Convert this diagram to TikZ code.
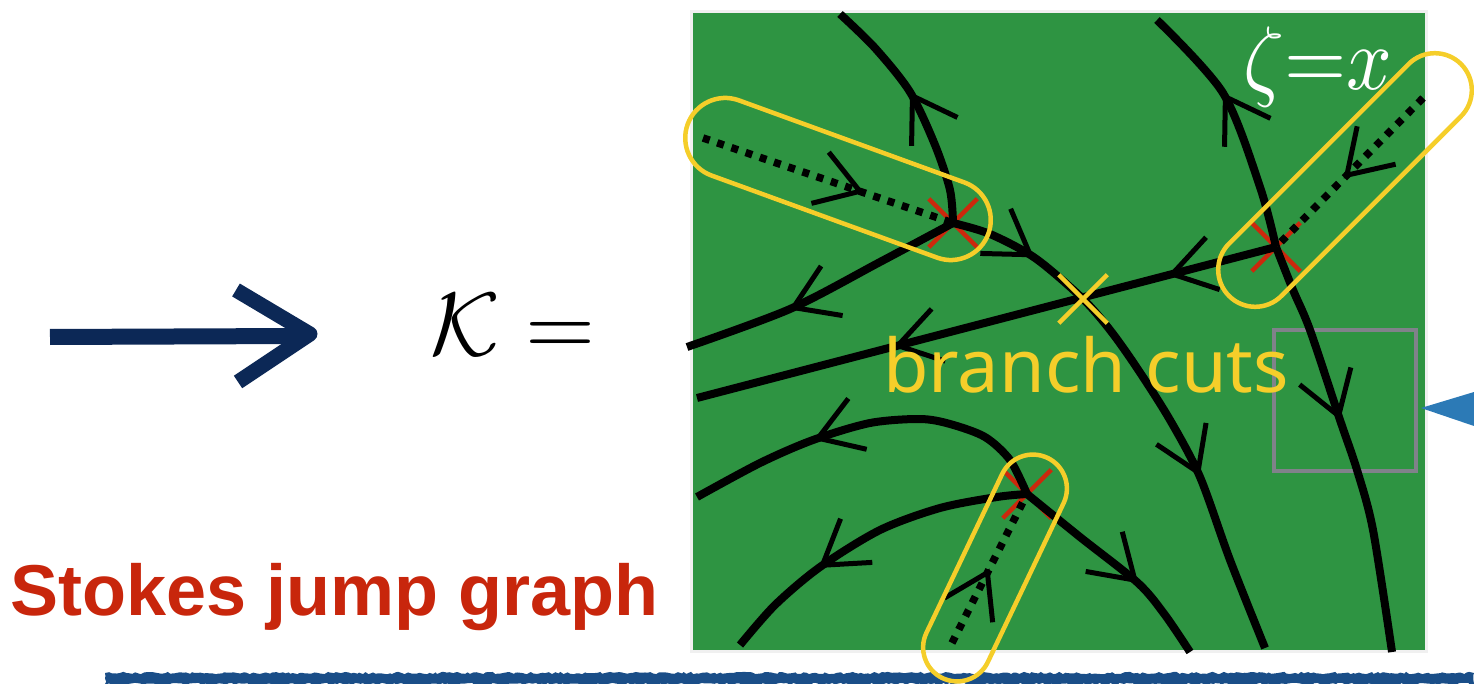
\documentclass[tikz,border=0pt]{standalone}
\usepackage{fontspec}
\usetikzlibrary{arrows.meta,decorations.markings,shapes.misc,decorations.pathmorphing}
\newfontfamily\stokesfont{Liberation Sans}
\newfontfamily\bcfont{Noto Sans}
\definecolor{boardgreen}{RGB}{46,148,66}
\definecolor{cutyellow}{RGB}{245,206,42}
\definecolor{xred}{RGB}{205,40,12}
\definecolor{stokesred}{RGB}{200,38,12}
\definecolor{navyink}{RGB}{12,40,86}
\definecolor{barblue}{RGB}{26,78,136}
\definecolor{triblue}{RGB}{44,122,182}
\definecolor{boxgray}{RGB}{128,130,138}
\tikzset{
  barb/.tip={Straight Barb[length=42pt,width=54pt]},
  curve/.style={line width=8pt,black},
  dots/.style={line width=7.5pt,black,dash pattern=on 7pt off 8pt},
  arr/.style={postaction={decorate,decoration={markings,
      mark=at position #1 with {\arrow[line width=5pt,solid,black]{barb}}}}},
  redx/.style={cross out,draw=xred,line width=4.5pt,minimum size=44pt,inner sep=0pt},
  yelx/.style={cross out,draw=cutyellow,line width=4.5pt,minimum size=44pt,inner sep=0pt},
  capsule/.style={draw=cutyellow,line width=4.5pt,inner sep=0pt},
  rough/.style={decorate,decoration={random steps,segment length=3pt,amplitude=1.2pt}},
}
\begin{document}
\begin{tikzpicture}[x=1pt,y=-1pt]
\useasboundingbox (0,0) rectangle (1474,684);
% board
\fill[black!6] (690,10) rectangle (1428,653);
\node[fill=boardgreen,minimum width=732pt,minimum height=637pt,inner sep=0pt,anchor=north west] (board) at (693,13) {};
% bottom bar and pointer
\fill[barblue,rough] (105,673) -- (1474,673) -- (1474,684) -- (105,684) -- cycle;
\fill[triblue] (1421,408) -- (1474,392) -- (1474,426) -- cycle;
% zoom box
\node[draw=boxgray,line width=4.5pt,minimum width=142pt,minimum height=141pt,inner sep=0pt] (zbox) at (1345,400.5) {};
% branch points
\node[redx] (xa) at (953,223) {};
\node[redx] (xb) at (1276,247) {};
\node[redx] (xc) at (1027,494) {};
% free ends
\coordinate (ea1) at (840,14);
\coordinate (ea2) at (1265,648);
\coordinate (ea3) at (687,347);
\coordinate (eb1) at (1157,20);
\coordinate (eb2) at (1392,652);
\coordinate (eb3) at (697,398);
\coordinate (ec1) at (697,497);
\coordinate (ec2) at (740,645);
\coordinate (ec3) at (1190,652);
\coordinate (da) at (703,138);
\coordinate (db) at (1423,98);
\coordinate (dc) at (952,643);
% Stokes curves
\draw[curve,arr=0.57] plot[smooth] coordinates {(xa.center) (950,190) (935,145) (910,92) (875,48) (ea1)};
\draw[curve,arr=0.161,arr=0.666] plot[smooth] coordinates {(xa.center) (990,234) (1035,258) (1082,298) (1110,330) (1137,368) (1170,420) (1200,477) (1230,560) (ea2)};
\draw[curve,arr=0.63] plot[smooth] coordinates {(xa.center) (880,262) (790,309) (ea3)};
\draw[curve,arr=0.624] plot[smooth] coordinates {(xb.center) (1260,187) (1223,93) (eb1)};
\draw[curve,arr=0.437] plot[smooth] coordinates {(xb.center) (1293,290) (1310,330) (1340,420) (1357,470) (1373,530) (eb2)};
\draw[curve,arr=0.187,arr=0.661] (xb.center) -- (eb3);
\draw[curve,arr=0.657] plot[smooth] coordinates {(xc.center) (1010,460) (985,437) (950,424) (920,419) (870,423) (813,440) (760,463) (ec1)};
\draw[curve,arr=0.67] plot[smooth] coordinates {(xc.center) (997,497) (940,508) (880,530) (820,567) (775,605) (ec2)};
\draw[curve,arr=0.623] plot[smooth] coordinates {(xc.center) (1080,537) (1138,583) (1165,615) (ec3)};
% branch cuts (dotted)
\draw[dots,arr=0.645] (da) -- (xa.center);
\draw[dots,arr=0.54] (db) -- (xb.center);
\draw[dots,arr=0.5] (dc) -- (xc.center);
% crossing of cuts
\node[yelx] (xy) at (1083,299) {};
% capsules
\node[capsule,minimum width=320pt,minimum height=80pt,rounded corners=40pt,rotate=-20] (capa) at (838,179) {};
\node[capsule,minimum width=328pt,minimum height=74pt,rounded corners=37pt,rotate=45] (capb) at (1345,180) {};
\node[capsule,minimum width=244pt,minimum height=68pt,rounded corners=34pt,rotate=64.5] (capc) at (995,568) {};
% labels
\node[anchor=base west,inner sep=0pt,text=cutyellow,font=\bcfont\fontsize{74}{74}\selectfont] (bc) at (883,392) {branch cuts};
\node[anchor=base west,inner sep=0pt,text=white] (zeta) at (1243,90) {\scalebox{8}[9]{$\zeta{=}x$}};
\node[anchor=base west,inner sep=0pt] (kay) at (430,355) {\scalebox{9}{$\mathcal{K}=$}};
\node[anchor=base west,inner sep=0pt,text=stokesred,font=\stokesfont\bfseries\fontsize{72}{72}\selectfont] (title) at (10,615) {Stokes jump graph};
% hand-drawn arrow
\coordinate (ha) at (50,337);
\coordinate (hb) at (298,336);
\coordinate (hc) at (236,290);
\coordinate (hd) at (310,334);
\coordinate (he) at (238,382);
\draw[navyink,line width=16pt] (ha) -- (hb);
\draw[navyink,line width=15pt,line join=round] (hc) -- (hd) -- (he);
\end{tikzpicture}
\end{document}
